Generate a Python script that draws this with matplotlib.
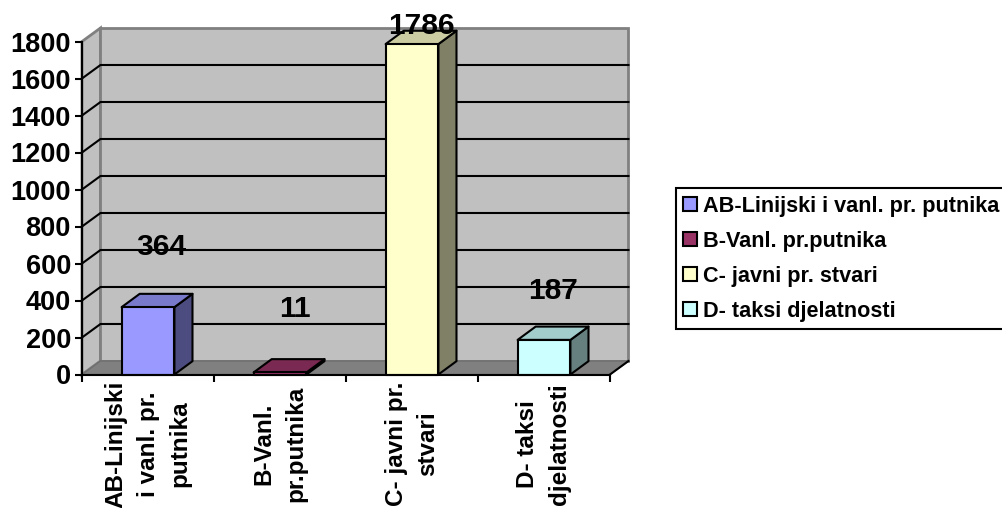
"""Excel-style pseudo 3D column chart, drawn on a flat axes with depth offsets."""
import matplotlib

matplotlib.use("Agg")
import matplotlib.pyplot as plt
from matplotlib.patches import Patch

categories = ["AB-Linijski\ni vanl. pr.\nputnika", "B-Vanl.\npr.putnika", "C- javni pr.\nstvari", "D- taksi\ndjelatnosti"]
legend_labels = ["AB-Linijski i vanl. pr. putnika", "B-Vanl. pr.putnika", "C- javni pr. stvari", "D- taksi djelatnosti"]
values = [364, 11, 1786, 187]
front_colors = ["#9999FF", "#993366", "#FFFFCC", "#CCFFFF"]
top_colors = ["#7A7ACC", "#7A2952", "#CCCCA3", "#A3CCCC"]
side_colors = ["#4C4C80", "#4D1A33", "#808066", "#668080"]
y_ticks = list(range(0, 2000, 200))

W, H = 1003, 508
# depth of the walls and bars in data units (x: categories, y: value)
WALL_DX, WALL_DY = 0.14, 73
BAR_DX, BAR_DY = 0.137, 72
BAR_W = 0.40
# hand-placed value labels in the original, offset from the front top-centre, in px
label_offsets = [(13, 60), (15, 63), (9, 18), (9, 49)]

plt.rcParams["font.family"] = ["Liberation Sans", "DejaVu Sans"]
plt.rcParams["font.weight"] = "bold"

fig = plt.figure(figsize=(W / 100, H / 100), dpi=100, facecolor="white")
ax = fig.add_axes([82 / W, (H - 374.5) / H, 528 / W, 333 / H])
ax.set_xlim(0, 4)
ax.set_ylim(0, 1800)
ax.patch.set_visible(False)

ymax = y_ticks[-1]
# side wall, back wall, floor
ax.fill([0, WALL_DX, WALL_DX, 0], [0, WALL_DY, ymax + WALL_DY, ymax], fc="#C0C0C0", ec="#808080", lw=2, clip_on=False, zorder=1)
ax.fill([WALL_DX, 4 + WALL_DX, 4 + WALL_DX, WALL_DX], [WALL_DY, WALL_DY, ymax + WALL_DY, ymax + WALL_DY],
        fc="#C0C0C0", ec="#808080", lw=2, clip_on=False, zorder=1)
ax.fill([0, 4, 4 + WALL_DX, WALL_DX], [0, 0, WALL_DY, WALL_DY], fc="#808080", ec="#6E6E6E", lw=1, clip_on=False, zorder=1)
ax.plot([4, 4 + WALL_DX], [0, WALL_DY], color="black", lw=1.5, clip_on=False, zorder=2)

# the top edge at 1800 stays grey, as in the original
for t in y_ticks[1:-1]:
    ax.plot([0, WALL_DX, 4 + WALL_DX], [t, t + WALL_DY, t + WALL_DY], color="black", lw=1.5, clip_on=False, zorder=2)

for i, v in enumerate(values):
    x0 = i + 0.5 - BAR_W / 2
    x1 = x0 + BAR_W
    style = dict(ec="black", lw=1.5, clip_on=False, zorder=3, joinstyle="round")
    ax.fill([x1, x1 + BAR_DX, x1 + BAR_DX, x1], [0, BAR_DY, v + BAR_DY, v], fc=side_colors[i], **style)
    ax.fill([x0, x1, x1 + BAR_DX, x0 + BAR_DX], [v, v, v + BAR_DY, v + BAR_DY], fc=top_colors[i], **style)
    ax.fill([x0, x1, x1, x0], [0, 0, v, v], fc=front_colors[i], **style)
    off = label_offsets[i]
    ax.annotate(str(v), (i + 0.5, v), xytext=(off[0] * 0.72, off[1] * 0.72), textcoords="offset points",
                ha="center", va="center", fontsize=21.5, fontweight="bold", color="black", zorder=5, annotation_clip=False)

for s in ["top", "right"]:
    ax.spines[s].set_visible(False)
for s in ["left", "bottom"]:
    ax.spines[s].set_linewidth(1.5)
    ax.spines[s].set_zorder(4)

ax.set_yticks(y_ticks)
ax.tick_params(axis="y", length=5, width=1.5, labelsize=19.5, pad=3)
ax.set_xticks(range(5))
ax.set_xticklabels([])
ax.tick_params(axis="x", which="major", length=5, width=1.5)
ax.set_xticks([i + 0.5 for i in range(4)], minor=True)
ax.set_xticklabels(categories, minor=True, rotation=90, ha="center", va="center", ma="center",
                   fontsize=17.5, fontweight="bold", linespacing=1.5)
ax.tick_params(axis="x", which="minor", length=0, pad=50)

handles = [Patch(fc=c, ec="black", lw=1.5) for c in front_colors]
leg = ax.legend(handles, legend_labels, loc="upper left", bbox_to_anchor=(675.7 / W, (H - 188) / H),
                bbox_transform=fig.transFigure, fontsize=15.6, frameon=True, fancybox=False, edgecolor="black",
                framealpha=1, borderaxespad=0, handlelength=0.62, handleheight=0.62, handletextpad=0.3,
                labelspacing=0.65, borderpad=0.35)
leg.get_frame().set_linewidth(1.5)

fig.savefig("out.png", dpi=100)
